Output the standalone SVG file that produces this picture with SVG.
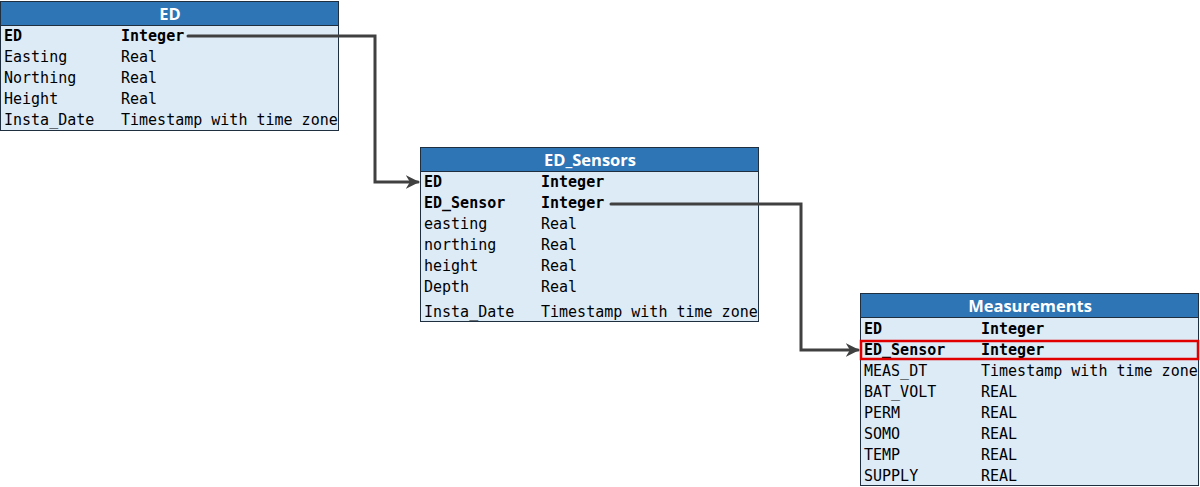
<svg xmlns="http://www.w3.org/2000/svg" width="1200" height="487" viewBox="0 0 1200 487">
<defs>
<style>
.hdr{fill:#2E75B6;stroke:#1F2F3F;stroke-width:1}
.body{fill:#DDEBF7;stroke:#1F2F3F;stroke-width:1}
.title{font-family:"Open Sans","Liberation Sans",sans-serif;font-weight:bold;font-size:16.5px;fill:#FFFFFF;text-anchor:middle}
.t{font-family:"DejaVu Sans Mono","Liberation Mono",monospace;font-size:15px;fill:#000000}
.b{font-weight:bold}
.conn{fill:none;stroke:#404040;stroke-width:3;stroke-linecap:round}
</style>
<marker id="arr" viewBox="0 0 10 10" refX="9" refY="5" markerWidth="4.5" markerHeight="4.5" orient="auto" markerUnits="strokeWidth">
<path d="M0,0 L10,5 L0,10 L3,5 Z" fill="#404040"/>
</marker>
</defs>
<rect width="1200" height="487" fill="#FFFFFF"/>
<g id="ED">
<rect class="body" x="0.5" y="1.5" width="338" height="129"/>
<rect class="hdr" x="0.5" y="1.5" width="338" height="24"/>
<text class="title" x="170" y="19.5">ED</text>
<text class="t b" x="4" y="41">ED</text><text class="t b" x="121" y="41">Integer</text>
<text class="t" x="4" y="62">Easting</text><text class="t" x="121" y="62">Real</text>
<text class="t" x="4" y="83">Northing</text><text class="t" x="121" y="83">Real</text>
<text class="t" x="4" y="104">Height</text><text class="t" x="121" y="104">Real</text>
<text class="t" x="4" y="125">Insta_Date</text><text class="t" x="121" y="125">Timestamp with time zone</text>
</g>
<g id="ED_Sensors">
<rect class="body" x="420.5" y="147.5" width="338" height="174"/>
<rect class="hdr" x="420.5" y="147.5" width="338" height="24"/>
<text class="title" x="590" y="165.5">ED_Sensors</text>
<text class="t b" x="424" y="187">ED</text><text class="t b" x="541" y="187">Integer</text>
<text class="t b" x="424" y="208">ED_Sensor</text><text class="t b" x="541" y="208">Integer</text>
<text class="t" x="424" y="229">easting</text><text class="t" x="541" y="229">Real</text>
<text class="t" x="424" y="250">northing</text><text class="t" x="541" y="250">Real</text>
<text class="t" x="424" y="271">height</text><text class="t" x="541" y="271">Real</text>
<text class="t" x="424" y="292">Depth</text><text class="t" x="541" y="292">Real</text>
<text class="t" x="424" y="317">Insta_Date</text><text class="t" x="541" y="317">Timestamp with time zone</text>
</g>
<g id="Measurements">
<rect class="body" x="860.5" y="293.5" width="338" height="192"/>
<rect class="hdr" x="860.5" y="293.5" width="338" height="24"/>
<text class="title" x="1030" y="312">Measurements</text>
<text class="t b" x="864" y="334">ED</text><text class="t b" x="981" y="334">Integer</text>
<text class="t b" x="864" y="355">ED_Sensor</text><text class="t b" x="981" y="355">Integer</text>
<text class="t" x="864" y="376">MEAS_DT</text><text class="t" x="981" y="376">Timestamp with time zone</text>
<text class="t" x="864" y="397">BAT_VOLT</text><text class="t" x="981" y="397">REAL</text>
<text class="t" x="864" y="418">PERM</text><text class="t" x="981" y="418">REAL</text>
<text class="t" x="864" y="439">SOMO</text><text class="t" x="981" y="439">REAL</text>
<text class="t" x="864" y="460">TEMP</text><text class="t" x="981" y="460">REAL</text>
<text class="t" x="864" y="481">SUPPLY</text><text class="t" x="981" y="481">REAL</text>
<rect x="861" y="341" width="337" height="18" fill="none" stroke="#E00000" stroke-width="2.5"/>
</g>
<g id="connectors">
<path class="conn" d="M188,36 H375 V182 H418" marker-end="url(#arr)"/>
<path class="conn" d="M611,204 H801 V350 H858" marker-end="url(#arr)"/>
</g>
</svg>
